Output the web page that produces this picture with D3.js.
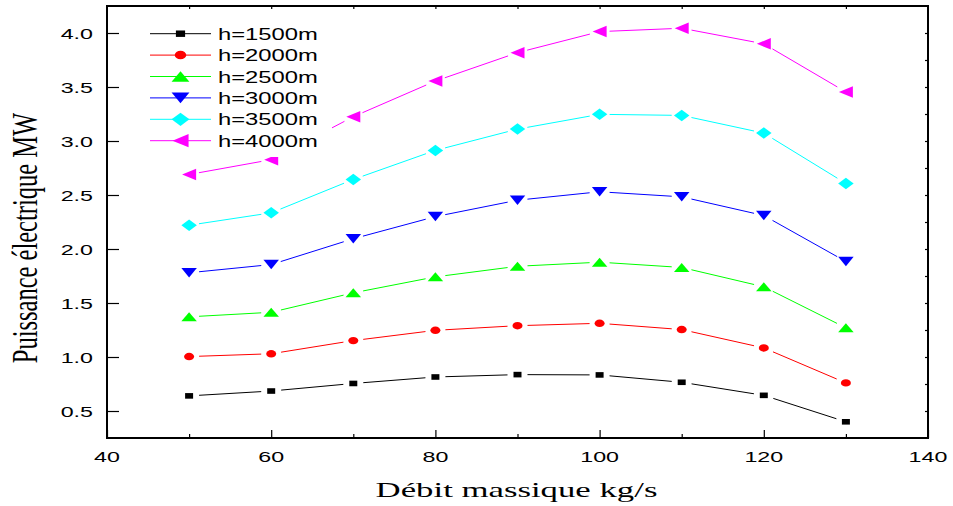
<!DOCTYPE html>
<html>
<head>
<meta charset="utf-8">
<script src="https://cdn.jsdelivr.net/npm/d3@7"></script>
<style>
  html, body { margin: 0; padding: 0; background: #fff; }
  svg { display: block; }
</style>
</head>
<body>
<svg id="chart" width="953" height="506"></svg>
<script>
// Mass flow rate (kg/s)
const flow = [50, 60, 70, 80, 90, 100, 110, 120, 130];

// Electrical power (MW) for each well depth
const p1500 = [0.640, 0.685, 0.755, 0.815, 0.837, 0.834, 0.766, 0.645, 0.400];
const p2000 = [1.004, 1.030, 1.152, 1.247, 1.290, 1.312, 1.254, 1.084, 0.760];
const p2500 = [1.372, 1.414, 1.594, 1.742, 1.840, 1.878, 1.829, 1.650, 1.270];
const p3000 = [1.780, 1.856, 2.095, 2.300, 2.452, 2.530, 2.483, 2.310, 1.884];
const p3500 = [2.220, 2.335, 2.644, 2.913, 3.110, 3.247, 3.237, 3.073, 2.607];
const p4000 = [2.690, 2.827, 3.225, 3.555, 3.818, 4.013, 4.044, 3.900, 3.454];

const seriesNames = ["h=1500m", "h=2000m", "h=2500m", "h=3000m", "h=3500m", "h=4000m"];
const seriesValues = [p1500, p2000, p2500, p3000, p3500, p4000];

const xTicks = [40, 60, 80, 100, 120, 140];
const yTicks = [0.5, 1.0, 1.5, 2.0, 2.5, 3.0, 3.5, 4.0];

const xTitle = "Débit massique kg/s";
const yTitle = "Puissance électrique MW";

// ---- styling ----
const colors = ["#000000", "#ff0000", "#00ff00", "#0000ff", "#00ffff", "#ff00ff"];
const shapes = ["square", "circle", "triUp", "triDown", "diamond", "triLeft"];
// marker full width / height in px
const markerSize = {
  square: [8, 5.6],
  circle: [10, 7.4],
  triUp: [15.5, 9],
  triDown: [15.5, 9.5],
  diamond: [15.5, 11.5],
  triLeft: [14, 11.5]
};
const SX = 1.55;            // horizontal stretch of tick labels
const sansFont = "'Liberation Sans', Arial, sans-serif";
const serifFont = "'Liberation Serif', 'Times New Roman', serif";

const svg = d3.select("#chart");
const plot = { left: 107, right: 928, top: 6, bottom: 438 };

const x = d3.scaleLinear().domain([40, 140]).range([plot.left, plot.right]);
const y = d3.scaleLinear().domain([0.25, 4.25]).range([plot.bottom, plot.top]);

function markerPath(shape, w, h) {
  const a = w / 2, b = h / 2;
  switch (shape) {
    case "square": return `M${-a},${-b}H${a}V${b}H${-a}Z`;
    case "triUp": return `M0,${-b}L${a},${b}L${-a},${b}Z`;
    case "triDown": return `M${-a},${-b}L${a},${-b}L0,${b}Z`;
    case "diamond": return `M0,${-b}L${a},0L0,${b}L${-a},0Z`;
    case "triLeft": return `M${-a},0L${a},${-b}L${a},${b}Z`;
  }
  return "";
}

function drawMarker(g, shape, cx, cy, color, k = 1) {
  const [w, h] = markerSize[shape];
  if (shape === "circle") {
    g.append("ellipse").attr("cx", cx).attr("cy", cy)
      .attr("rx", w * k / 2).attr("ry", h * k / 2).attr("fill", color);
  } else {
    g.append("path").attr("transform", `translate(${cx},${cy})`)
      .attr("d", markerPath(shape, w * k, h * k)).attr("fill", color);
  }
}

// ---- tick marks (inward) ----
const ticksG = svg.append("g").attr("stroke", "#000").attr("fill", "none");

// bottom: major and minor
ticksG.append("g").attr("transform", `translate(0,${plot.bottom})`)
  .call(d3.axisBottom(x).tickValues(xTicks).tickSize(-8).tickFormat(""));
ticksG.append("g").attr("transform", `translate(0,${plot.bottom})`)
  .call(d3.axisBottom(x).tickValues(d3.range(50, 140, 20)).tickSize(-4).tickFormat(""));
// left: major
ticksG.append("g").attr("transform", `translate(${plot.left},0)`)
  .call(d3.axisLeft(y).tickValues(yTicks).tickSize(-12).tickFormat(""));
// top and right: small ticks
ticksG.append("g").attr("transform", `translate(0,${plot.top})`)
  .call(d3.axisTop(x).tickValues(d3.range(50, 140, 10)).tickSize(-3).tickFormat(""));
ticksG.append("g").attr("transform", `translate(${plot.right},0)`)
  .call(d3.axisRight(y).tickValues(d3.range(0.5, 4.25, 0.25)).tickSize(-3).tickFormat(""));
ticksG.selectAll(".domain").remove();
ticksG.selectAll("line").attr("stroke", "#000").attr("stroke-width", 1.2);

// ---- frame ----
svg.append("rect")
  .attr("x", plot.left).attr("y", plot.top)
  .attr("width", plot.right - plot.left).attr("height", plot.bottom - plot.top)
  .attr("fill", "none").attr("stroke", "#000").attr("stroke-width", 2);

// ---- tick labels ----
const fmt = d3.format(".1f");
svg.append("g").selectAll("text").data(yTicks).join("text")
  .attr("transform", d => `translate(93,${y(d) + 5.5}) scale(${SX},1)`)
  .attr("text-anchor", "end")
  .attr("font-family", sansFont).attr("font-size", 15)
  .text(d => fmt(d));

svg.append("g").selectAll("text").data(xTicks).join("text")
  .attr("transform", d => `translate(${x(d)},${462}) scale(${SX},1)`)
  .attr("text-anchor", "middle")
  .attr("font-family", sansFont).attr("font-size", 15)
  .text(d => d);

// ---- axis titles ----
svg.append("text")
  .attr("transform", `translate(516.5,497) scale(1.58,1)`)
  .attr("text-anchor", "middle")
  .attr("font-family", serifFont).attr("font-size", 22)
  .text(xTitle);

svg.append("text")
  .attr("transform", `translate(37,238) scale(1.48,1) rotate(-90)`)
  .attr("text-anchor", "middle")
  .attr("font-family", serifFont).attr("font-size", 24.5)
  .text(yTitle);

// ---- series: lines with gaps around markers, then markers ----
const GAP = 10;
const dataG = svg.append("g");
seriesValues.forEach((vals, i) => {
  const pts = flow.map((f, j) => [x(f), y(vals[j])]);
  const g = dataG.append("g");
  for (let j = 0; j < pts.length - 1; j++) {
    const [x0, y0] = pts[j], [x1, y1] = pts[j + 1];
    const dx = x1 - x0, dy = y1 - y0, len = Math.hypot(dx, dy);
    const ux = dx / len, uy = dy / len;
    g.append("line")
      .attr("x1", x0 + ux * GAP).attr("y1", y0 + uy * GAP)
      .attr("x2", x1 - ux * GAP).attr("y2", y1 - uy * GAP)
      .attr("stroke", colors[i]).attr("stroke-width", 1);
  }
  pts.forEach(([px, py]) => drawMarker(g, shapes[i], px, py, colors[i]));
});

// ---- legend ----
const legend = svg.append("g");
legend.append("rect")
  .attr("x", 140).attr("y", 20).attr("width", 192).attr("height", 137)
  .attr("fill", "#fff");
const rowY = d => 33.7 + d * 21.4;
seriesNames.forEach((name, i) => {
  const ly = rowY(i);
  legend.append("line")
    .attr("x1", 150).attr("x2", 211).attr("y1", ly).attr("y2", ly)
    .attr("stroke", colors[i]).attr("stroke-width", 1);
  drawMarker(legend, shapes[i], 180.5, ly, colors[i], 1.15);
  legend.append("text")
    .attr("transform", `translate(218,${ly + 6}) scale(1.4,1)`)
    .attr("font-family", sansFont).attr("font-size", 17)
    .text(name);
});
</script>
</body>
</html>
